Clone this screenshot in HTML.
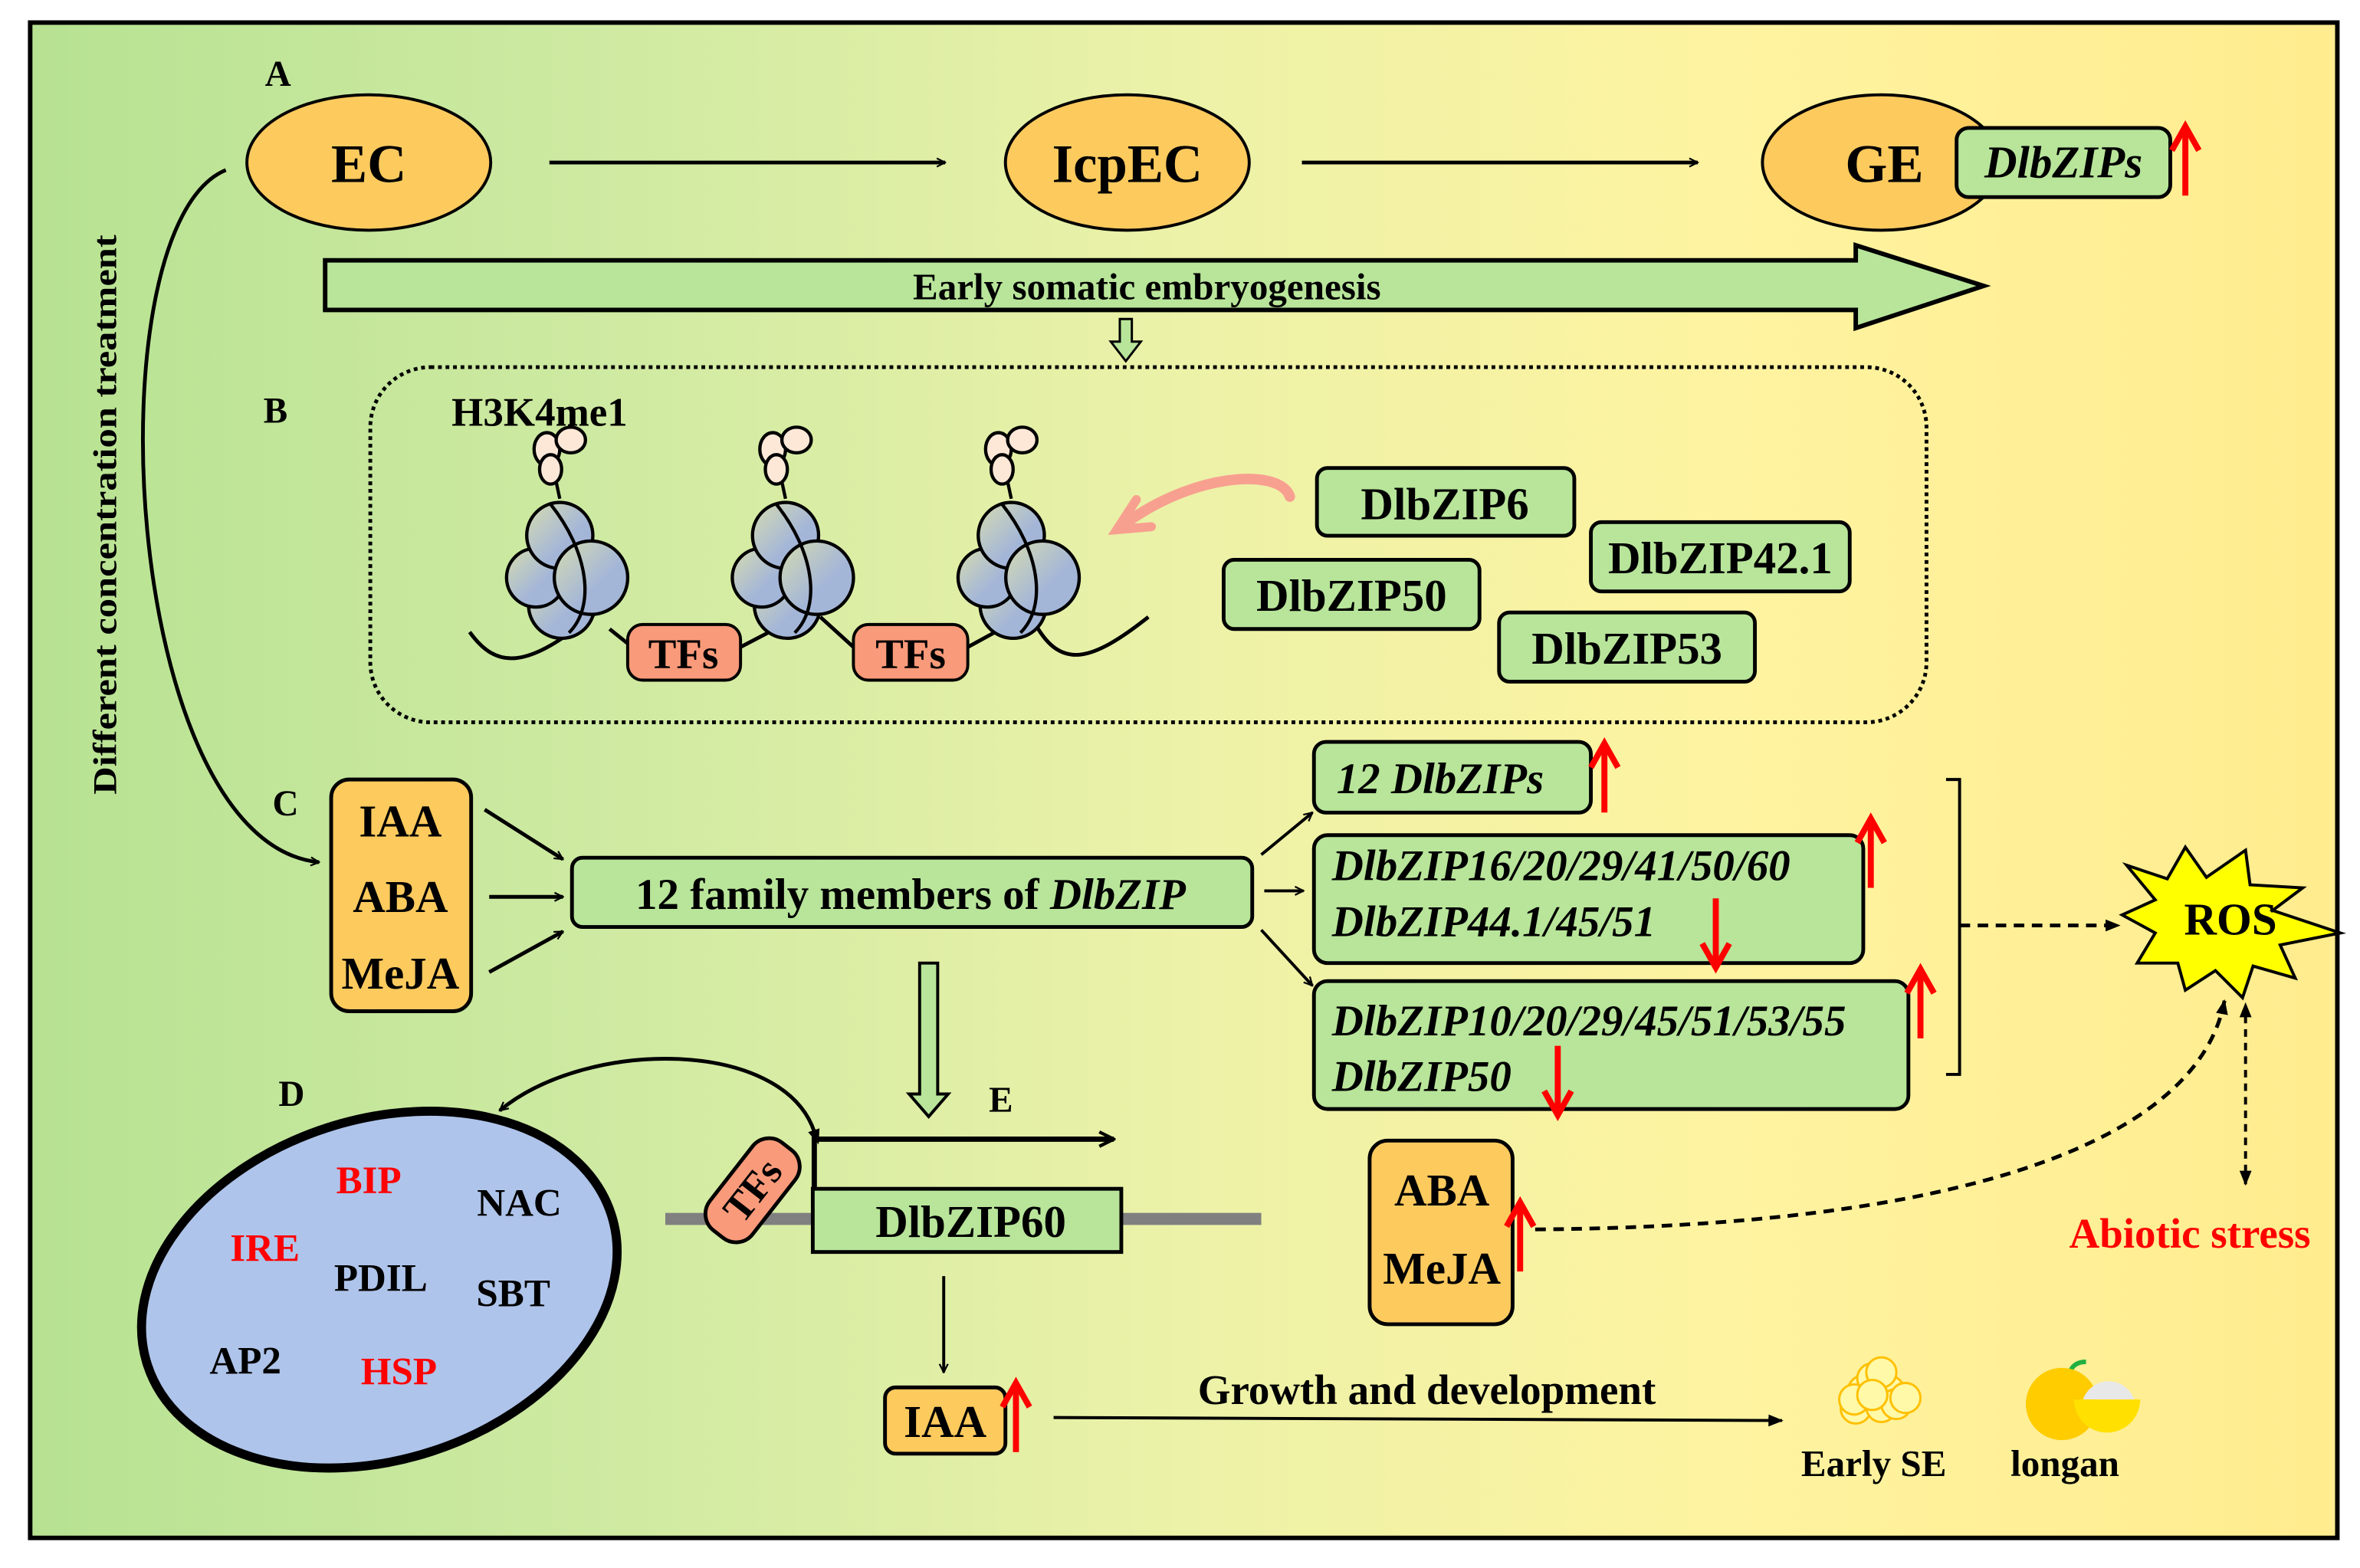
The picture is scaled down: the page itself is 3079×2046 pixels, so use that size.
<!DOCTYPE html>
<html><head><meta charset="utf-8"><style>html,body{margin:0;padding:0;background:#fff}svg{display:block}
svg text{font-family:"Liberation Serif","Times New Roman",serif;font-weight:bold}</style></head><body>
<svg width="3079" height="2046" viewBox="0 0 1568 1042" xmlns="http://www.w3.org/2000/svg" font-family="Liberation Serif, Times New Roman, serif" font-weight="bold">
<defs>
<linearGradient id="bg" x1="0" x2="1" y1="0" y2="0">
<stop offset="0" stop-color="#b7e292"/><stop offset="0.25" stop-color="#cfeaa2"/><stop offset="0.5" stop-color="#ecf2a8"/><stop offset="0.75" stop-color="#fff3a0"/><stop offset="1" stop-color="#ffec8e"/></linearGradient>
<linearGradient id="nuc" x1="0" x2="1" y1="0" y2="1"><stop offset="0" stop-color="#d6dcb0"/><stop offset="0.6" stop-color="#a4b6d8"/></linearGradient>
<marker id="ah" viewBox="0 0 10 10" refX="9" refY="5" markerWidth="7" markerHeight="7" orient="auto" markerUnits="userSpaceOnUse"><path d="M1,1 L9,5 L1,9" fill="none" stroke="#000" stroke-width="1.6"/></marker>
<marker id="ah2" viewBox="0 0 10 10" refX="9" refY="5" markerWidth="12" markerHeight="12" orient="auto" markerUnits="userSpaceOnUse"><path d="M1,1 L9,5 L1,9" fill="none" stroke="#000" stroke-width="1.8"/></marker>
<marker id="af" viewBox="0 0 10 10" refX="9" refY="5" markerWidth="10" markerHeight="10" orient="auto" markerUnits="userSpaceOnUse"><path d="M0,1 L10,5 L0,9 Z" fill="#000"/></marker>
<marker id="afs" viewBox="0 0 10 10" refX="1" refY="5" markerWidth="10" markerHeight="10" orient="auto-start-reverse" markerUnits="userSpaceOnUse"><path d="M0,1 L10,5 L0,9 Z" fill="#000"/></marker>
<g id="nucl" transform="scale(1.22)">
<circle cx="-4" cy="10" r="18" fill="url(#nuc)" stroke="#000" stroke-width="1.8"/>
<circle cx="-18" cy="-5" r="16" fill="url(#nuc)" stroke="#000" stroke-width="1.8"/>
<circle cx="-5" cy="-28" r="18" fill="url(#nuc)" stroke="#000" stroke-width="1.8"/>
<circle cx="12" cy="-5" r="20" fill="url(#nuc)" stroke="#000" stroke-width="1.8"/>
<path d="M-10,-45 C10,-20 15,10 0,25" fill="none" stroke="#000" stroke-width="1.8"/>
<path d="M-5,-48 L-8,-62" stroke="#000" stroke-width="1.8"/>
<ellipse cx="-12" cy="-75" rx="7" ry="9" fill="#fde8d8" stroke="#000" stroke-width="1.8"/>
<ellipse cx="1" cy="-80" rx="8" ry="7" fill="#fde8d8" stroke="#000" stroke-width="1.8"/>
<ellipse cx="-10" cy="-64" rx="6" ry="8" fill="#fde8d8" stroke="#000" stroke-width="1.8"/>
</g>
<g id="rup"><path d="M0,0 L0,-44" stroke="#f00" stroke-width="4"/><path d="M-9,-30 L0,-46 L9,-30" fill="none" stroke="#f00" stroke-width="4"/></g>
<g id="rdn"><path d="M0,0 L0,44" stroke="#f00" stroke-width="4"/><path d="M-9,30 L0,46 L9,30" fill="none" stroke="#f00" stroke-width="4"/></g>
</defs>
<rect x="0" y="0" width="1568" height="1042" fill="#fff"/>
<rect x="20" y="15" width="1533" height="1007" fill="url(#bg)" stroke="#000" stroke-width="3"/>

<text x="176" y="57" font-size="24">A</text>
<ellipse cx="245" cy="108" rx="81" ry="45" fill="#fdca5e" stroke="#000" stroke-width="2"/>
<text x="245" y="121" font-size="36" text-anchor="middle">EC</text>
<line x1="365" y1="108" x2="628" y2="108" stroke="#000" stroke-width="2.5" marker-end="url(#ah)"/>
<ellipse cx="749" cy="108" rx="81" ry="45" fill="#fdca5e" stroke="#000" stroke-width="2"/>
<text x="749" y="121" font-size="36" text-anchor="middle">IcpEC</text>
<line x1="865" y1="108" x2="1128" y2="108" stroke="#000" stroke-width="2.5" marker-end="url(#ah)"/>
<ellipse cx="1250" cy="108" rx="79" ry="45" fill="#fdca5e" stroke="#000" stroke-width="2"/>
<text x="1252" y="121" font-size="36" text-anchor="middle">GE</text>
<rect x="1300" y="85" width="142" height="46" rx="8" fill="#b8e59a" stroke="#000" stroke-width="2.5"/>
<text x="1371" y="118" font-size="30" font-style="italic" text-anchor="middle">DlbZIPs</text>
<use href="#rup" x="1452" y="130"/>

<path d="M216,173 L1233,173 L1233,163 L1318,190 L1233,218 L1233,206 L216,206 Z" fill="#b8e59a" stroke="#000" stroke-width="3"/>
<text x="762" y="199" font-size="25" text-anchor="middle">Early somatic embryogenesis</text>
<path d="M744,212 L752,212 L752,227 L758,227 L748,240 L738,227 L744,227 Z" fill="#b8e59a" stroke="#000" stroke-width="1.5"/>

<rect x="246" y="244" width="1034" height="236" rx="40" fill="none" stroke="#000" stroke-width="2.5" stroke-dasharray="2.5,2.5"/>
<text x="175" y="281" font-size="24">B</text>
<text x="300" y="283" font-size="27">H3K4me1</text>
<path d="M312,420 C330,445 350,445 395,408 M405,418 L420,430 M492,430 L515,418 M545,410 L567,430 M643,430 L665,418 M688,415 C705,445 725,440 763,410" fill="none" stroke="#000" stroke-width="2.5"/>
<use href="#nucl" x="378" y="390"/>
<use href="#nucl" x="528" y="390"/>
<use href="#nucl" x="678" y="390"/>
<rect x="417" y="415" width="75" height="37" rx="10" fill="#f99a7a" stroke="#000" stroke-width="2"/>
<text x="454" y="444" font-size="28" text-anchor="middle">TFs</text>
<rect x="567" y="415" width="76" height="37" rx="10" fill="#f99a7a" stroke="#000" stroke-width="2"/>
<text x="605" y="444" font-size="28" text-anchor="middle">TFs</text>
<path d="M857,330 C850,310 790,315 745,350" fill="none" stroke="#f8a090" stroke-width="7" stroke-linecap="round"/>
<path d="M755,332 L742,352 L765,350" fill="none" stroke="#f8a090" stroke-width="6" stroke-linecap="round"/>
<rect x="875" y="311" width="171" height="45" rx="7" fill="#b8e59a" stroke="#000" stroke-width="2.5"/>
<text x="960" y="345" font-size="30" text-anchor="middle">DlbZIP6</text>
<rect x="1057" y="347" width="172" height="46" rx="7" fill="#b8e59a" stroke="#000" stroke-width="2.5"/>
<text x="1143" y="381" font-size="30" text-anchor="middle">DlbZIP42.1</text>
<rect x="813" y="372" width="170" height="46" rx="7" fill="#b8e59a" stroke="#000" stroke-width="2.5"/>
<text x="898" y="406" font-size="30" text-anchor="middle">DlbZIP50</text>
<rect x="996" y="407" width="170" height="46" rx="7" fill="#b8e59a" stroke="#000" stroke-width="2.5"/>
<text x="1081" y="441" font-size="30" text-anchor="middle">DlbZIP53</text>

<text transform="translate(77,342) rotate(-90)" font-size="22" text-anchor="middle" textLength="372" lengthAdjust="spacingAndGlyphs">Different concentration treatment</text>
<path d="M150,113 C60,150 80,560 212,573" fill="none" stroke="#000" stroke-width="2.5" marker-end="url(#ah)"/>

<text x="181" y="542" font-size="24">C</text>
<rect x="220" y="518" width="93" height="154" rx="12" fill="#fdca5e" stroke="#000" stroke-width="2.5"/>
<text x="266" y="556" font-size="30" text-anchor="middle">IAA</text>
<text x="266" y="606" font-size="30" text-anchor="middle">ABA</text>
<text x="266" y="657" font-size="30" text-anchor="middle">MeJA</text>
<line x1="322" y1="538" x2="374" y2="571" stroke="#000" stroke-width="2.5" marker-end="url(#ah)"/>
<line x1="325" y1="596" x2="374" y2="596" stroke="#000" stroke-width="2.5" marker-end="url(#ah)"/>
<line x1="325" y1="646" x2="374" y2="619" stroke="#000" stroke-width="2.5" marker-end="url(#ah)"/>
<rect x="380" y="570" width="452" height="46" rx="7" fill="#b8e59a" stroke="#000" stroke-width="2.5"/>
<text x="605" y="604" font-size="29" text-anchor="middle">12 family members of <tspan font-style="italic">DlbZIP</tspan></text>
<line x1="838" y1="568" x2="872" y2="540" stroke="#000" stroke-width="2" marker-end="url(#ah)"/>
<line x1="840" y1="592" x2="866" y2="592" stroke="#000" stroke-width="2" marker-end="url(#ah)"/>
<line x1="838" y1="618" x2="872" y2="655" stroke="#000" stroke-width="2" marker-end="url(#ah)"/>
<rect x="873" y="493" width="184" height="47" rx="8" fill="#b8e59a" stroke="#000" stroke-width="2.5"/>
<text x="888" y="527" font-size="29" font-style="italic">12 DlbZIPs</text>
<use href="#rup" x="1066" y="540"/>
<rect x="873" y="555" width="365" height="85" rx="9" fill="#b8e59a" stroke="#000" stroke-width="2.5"/>
<text x="885" y="585" font-size="29" font-style="italic">DlbZIP16/20/29/41/50/60</text>
<text x="885" y="622" font-size="29" font-style="italic">DlbZIP44.1/45/51</text>
<use href="#rup" x="1243" y="590"/>
<use href="#rdn" x="1140" y="597"/>
<rect x="873" y="652" width="395" height="85" rx="9" fill="#b8e59a" stroke="#000" stroke-width="2.5"/>
<text x="885" y="688" font-size="29" font-style="italic">DlbZIP10/20/29/45/51/53/55</text>
<text x="885" y="725" font-size="29" font-style="italic">DlbZIP50</text>
<use href="#rup" x="1276" y="690"/>
<use href="#rdn" x="1035" y="695"/>
<path d="M1293,518 L1302,518 L1302,714 L1293,714" fill="none" stroke="#000" stroke-width="2"/>
<line x1="1302" y1="615" x2="1408" y2="615" stroke="#000" stroke-width="2.5" stroke-dasharray="7,5" marker-end="url(#af)"/>
<polygon points="1413,575 1440,584 1452,563 1466,583 1492,565 1495,588 1530,590 1510,605 1555,620 1515,628 1525,650 1497,642 1490,663 1472,645 1452,658 1447,640 1420,640 1432,620 1410,608 1432,598" fill="#ffff00" stroke="#000" stroke-width="2"/>
<text x="1482" y="621" font-size="30" text-anchor="middle">ROS</text>
<line x1="1492" y1="675" x2="1492" y2="787" stroke="#000" stroke-width="2" stroke-dasharray="5,4" marker-start="url(#afs)" marker-end="url(#af)"/>
<text x="1455" y="829" font-size="28" fill="#f00" text-anchor="middle">Abiotic stress</text>

<path d="M611,640 L623,640 L623,727 L630,727 L617,742 L604,727 L611,727 Z" fill="#b8e59a" stroke="#000" stroke-width="2"/>
<text x="657" y="739" font-size="24">E</text>
<text x="185" y="735" font-size="24">D</text>

<ellipse cx="252" cy="857" rx="162" ry="113" transform="rotate(-18 252 857)" fill="#afc4ea" stroke="#000" stroke-width="6"/>
<g font-size="26" text-anchor="middle">
<text x="245" y="793" fill="#f00">BIP</text>
<text x="345" y="808">NAC</text>
<text x="176" y="838" fill="#f00">IRE</text>
<text x="253" y="858">PDIL</text>
<text x="341" y="868">SBT</text>
<text x="163" y="913">AP2</text>
<text x="265" y="920" fill="#f00">HSP</text>
</g>
<path d="M541,752 C520,690 390,690 332,738" fill="none" stroke="#000" stroke-width="2.5" marker-start="url(#afs)" marker-end="url(#ah)"/>
<line x1="442" y1="810" x2="838" y2="810" stroke="#808080" stroke-width="8"/>
<g transform="translate(500,791) rotate(-52)">
<rect x="-37" y="-18" width="74" height="36" rx="14" fill="#f99a7a" stroke="#000" stroke-width="2.5"/>
<text x="0" y="9" font-size="27" text-anchor="middle">TFs</text></g>
<rect x="540" y="790" width="205" height="42" fill="#b8e59a" stroke="#000" stroke-width="2.5"/>
<text x="645" y="822" font-size="30" text-anchor="middle">DlbZIP60</text>
<path d="M541,790 L541,757 L740,757" fill="none" stroke="#000" stroke-width="3.5" marker-end="url(#ah2)"/>
<line x1="627" y1="848" x2="627" y2="912" stroke="#000" stroke-width="2" marker-end="url(#ah)"/>
<rect x="588" y="922" width="80" height="44" rx="7" fill="#fdca5e" stroke="#000" stroke-width="2.5"/>
<text x="628" y="955" font-size="30" text-anchor="middle">IAA</text>
<use href="#rup" x="675" y="965"/>
<line x1="700" y1="942" x2="1184" y2="944" stroke="#000" stroke-width="2" marker-end="url(#af)"/>
<text x="948" y="933" font-size="28" text-anchor="middle">Growth and development</text>
<g fill="#fff9a8" stroke="#ffc000" stroke-width="1.5">
<circle cx="1238" cy="924" r="10"/><circle cx="1255" cy="924" r="10"/><circle cx="1233" cy="936" r="10"/>
<circle cx="1244" cy="916" r="10"/><circle cx="1250" cy="935" r="10"/><circle cx="1232" cy="930" r="10"/><circle cx="1260" cy="933" r="10"/><circle cx="1266" cy="929" r="10"/><circle cx="1250" cy="912" r="10"/><circle cx="1244" cy="927" r="10"/>
</g>
<path d="M1375,922 C1373,910 1378,905 1386,905" fill="none" stroke="#20b040" stroke-width="3"/>
<circle cx="1370" cy="933" r="24" fill="#ffcc00"/>
<path d="M1384,930 A18,18 0 0 1 1418,930 Z" fill="#e8e8e8"/>
<path d="M1378,930 L1422,930 A22,22 0 0 1 1378,930 Z" fill="#ffe000"/>
<text x="1245" y="981" font-size="25" text-anchor="middle">Early SE</text>
<text x="1372" y="981" font-size="25" text-anchor="middle">longan</text>

<rect x="910" y="758" width="95" height="122" rx="12" fill="#fdca5e" stroke="#000" stroke-width="2.5"/>
<text x="958" y="801" font-size="30" text-anchor="middle">ABA</text>
<text x="958" y="853" font-size="30" text-anchor="middle">MeJA</text>
<use href="#rup" x="1010" y="845"/>
<path d="M1020,817 C1300,815 1460,760 1478,665" fill="none" stroke="#000" stroke-width="2.5" stroke-dasharray="7,5" marker-end="url(#af)"/>
</svg>
</body></html>
